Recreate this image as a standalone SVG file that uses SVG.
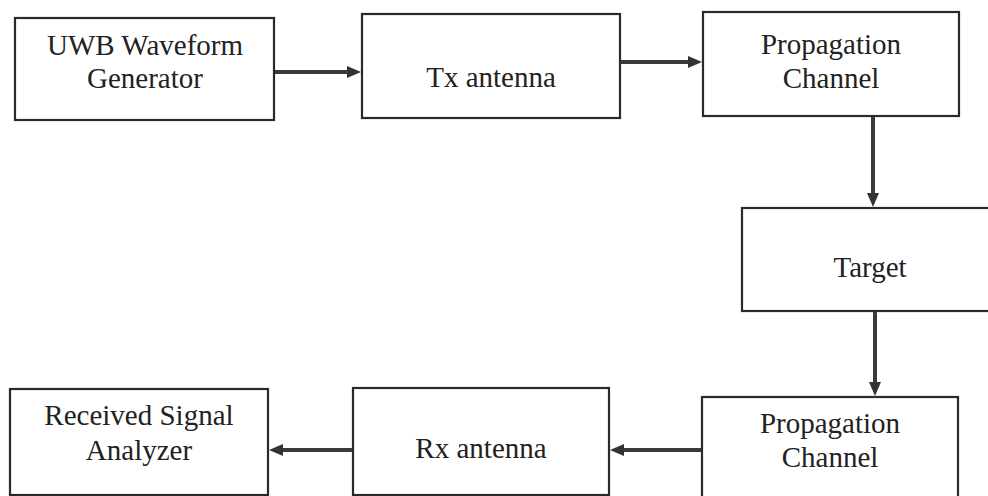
<svg xmlns="http://www.w3.org/2000/svg" width="988" height="496" viewBox="0 0 988 496">
<defs>
<style>
.box{fill:#fff;stroke:#2a2a2a;stroke-width:2.2}
.lbl{font-family:"Liberation Serif","Times New Roman",serif;font-size:29px;fill:#222;text-anchor:middle}
.conn{stroke:#3a3a3a;stroke-width:4;fill:none}
</style>
<marker id="ah" viewBox="0 0 14 12" refX="4" refY="6" markerWidth="14" markerHeight="12" markerUnits="userSpaceOnUse" orient="auto">
<path d="M0,0 L14,6 L0,12 z" fill="#333"/>
</marker>
</defs>
<rect width="988" height="496" fill="#fff"/>
<g id="n-uwb">
<rect class="box" x="15" y="18" width="259" height="102"/>
<text class="lbl" x="145" y="55">UWB Waveform</text>
<text class="lbl" x="145" y="88">Generator</text>
</g>
<g id="n-tx">
<rect class="box" x="362" y="14" width="258" height="104"/>
<text class="lbl" x="491" y="87">Tx antenna</text>
</g>
<g id="n-prop1">
<rect class="box" x="703" y="12" width="256" height="104"/>
<text class="lbl" x="831" y="54">Propagation</text>
<text class="lbl" x="831" y="88">Channel</text>
</g>
<g id="n-target">
<rect class="box" x="742" y="208" width="260" height="103"/>
<text class="lbl" x="870" y="277">Target</text>
</g>
<g id="n-prop2">
<rect class="box" x="702" y="397" width="256" height="110"/>
<text class="lbl" x="830" y="433">Propagation</text>
<text class="lbl" x="830" y="467">Channel</text>
</g>
<g id="n-rx">
<rect class="box" x="353" y="388" width="256" height="107"/>
<text class="lbl" x="481" y="458">Rx antenna</text>
</g>
<g id="n-rsa">
<rect class="box" x="10" y="389" width="258" height="106"/>
<text class="lbl" x="139" y="425">Received Signal</text>
<text class="lbl" x="139" y="460">Analyzer</text>
</g>
<g id="connectors">
<line class="conn" x1="275" y1="72" x2="351" y2="72" marker-end="url(#ah)"/>
<line class="conn" x1="621" y1="62" x2="692" y2="62" marker-end="url(#ah)"/>
<line class="conn" x1="873" y1="117" x2="873" y2="197" marker-end="url(#ah)"/>
<line class="conn" x1="875" y1="312" x2="875" y2="386" marker-end="url(#ah)"/>
<line class="conn" x1="701" y1="450" x2="620" y2="450" marker-end="url(#ah)"/>
<line class="conn" x1="352" y1="450" x2="279" y2="450" marker-end="url(#ah)"/>
</g>
</svg>
